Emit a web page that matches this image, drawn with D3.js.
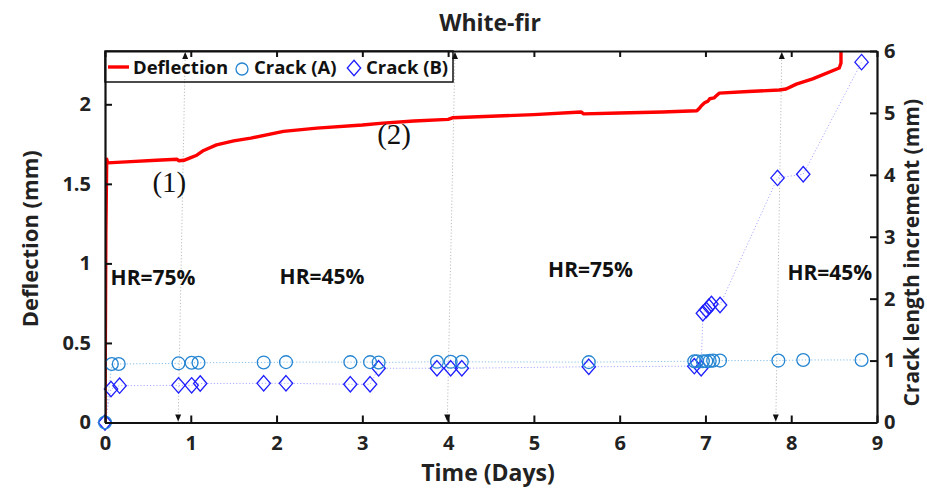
<!DOCTYPE html>
<html>
<head>
<meta charset="utf-8">
<script src="https://cdn.jsdelivr.net/npm/d3@7"></script>
<style>
  html, body { margin: 0; padding: 0; background: #fff; }
  svg { display: block; font-family: "Open Sans", "DejaVu Sans", sans-serif; }
</style>
</head>
<body>
<svg id="chart" width="927" height="488"></svg>
<script>
// Mid-span deflection (mm) over time (days)
const deflectionDays = [0, 0.01, 0.02, 0.03, 0.3, 0.6, 0.84, 0.86, 0.92, 1.0, 1.07, 1.15, 1.3, 1.5, 1.7, 2.08, 2.47, 3.0, 3.24, 3.6, 4.0, 4.05, 4.5, 5.0, 5.55, 5.58, 6.0, 6.5, 6.9, 6.93, 6.95, 6.99, 7.03, 7.05, 7.1, 7.12, 7.16, 7.5, 7.86, 7.94, 8.06, 8.25, 8.56, 8.58, 8.58];
const deflectionMm   = [0, 1.2, 1.655, 1.632, 1.64, 1.648, 1.655, 1.645, 1.648, 1.665, 1.68, 1.71, 1.745, 1.77, 1.787, 1.83, 1.85, 1.87, 1.882, 1.895, 1.905, 1.915, 1.925, 1.935, 1.952, 1.94, 1.945, 1.952, 1.959, 1.975, 1.99, 2.01, 2.02, 2.035, 2.04, 2.05, 2.07, 2.08, 2.09, 2.096, 2.127, 2.16, 2.228, 2.26, 2.6];

// Crack length increment (mm), crack A
const crackADays = [0, 0.08, 0.16, 0.857, 1.01, 1.09, 1.85, 2.11, 2.86, 3.09, 3.19, 3.87, 4.03, 4.16, 5.64, 6.87, 6.90, 6.97, 7.01, 7.05, 7.09, 7.17, 7.85, 8.14, 8.82];
const crackAMm   = [0, 0.945, 0.945, 0.955, 0.965, 0.965, 0.97, 0.975, 0.975, 0.975, 0.97, 0.98, 0.98, 0.98, 0.975, 0.99, 0.99, 0.99, 0.99, 0.995, 1.0, 1.0, 1.0, 1.01, 1.01];

// Crack length increment (mm), crack B
const crackBDays = [0, 0.07, 0.17, 0.857, 1.01, 1.11, 1.85, 2.11, 2.86, 3.09, 3.19, 3.87, 4.03, 4.16, 5.64, 6.87, 6.95, 6.97, 7.01, 7.04, 7.07, 7.17, 7.84, 8.14, 8.82];
const crackBMm   = [0, 0.54, 0.595, 0.6, 0.6, 0.63, 0.633, 0.633, 0.617, 0.617, 0.876, 0.876, 0.876, 0.876, 0.9, 0.91, 0.876, 1.764, 1.817, 1.871, 1.914, 1.898, 3.95, 4.01, 5.82];

// Axis ticks
const timeTicks = [0, 1, 2, 3, 4, 5, 6, 7, 8, 9];
const deflectionTicks = [0, 0.5, 1, 1.5, 2];
const deflectionTickLabels = ["0", "0.5", "1", "1.5", "2"];
const crackTicks = [0, 1, 2, 3, 4, 5, 6];

// Humidity phases and the moments they change
const humidityLabels = ["HR=75%", "HR=45%", "HR=75%", "HR=45%"];
const humidityDays = [0.56, 2.53, 5.66, 8.45];
const humidityAt = [0.865, 0.87, 0.915, 0.896];
const changeDaysLow = [0.853, 3.99, 7.82];
const changeDaysHigh = [0.935, 4.08, 7.89];

// Stage markers on the deflection curve
const stageLabels = ["(1)", "(2)"];
const stageDays = [0.75, 3.37];
const stageAt = [1.45, 1.752];

const seriesNames = ["Deflection", "Crack (A)", "Crack (B)"];

const svg = d3.select("#chart");
const plotL = 105, plotR = 877, plotT = 51, plotB = 422.5;

const x = d3.scaleLinear().domain([0, 9]).range([plotL, plotR]);
const yL = d3.scaleLinear().domain([0, 2.335]).range([plotB, plotT]);
const yR = d3.scaleLinear().domain([0, 6]).range([plotB, plotT]);

const red = "#ff0000", blueA = "#2585d2", blueB = "#1e1eff";
const lineA = "#86bfea", lineB = "#a9a9ff";

svg.append("defs").append("clipPath").attr("id", "plot")
  .append("rect").attr("x", plotL).attr("y", plotT).attr("width", plotR - plotL).attr("height", plotB - plotT);

// Title
svg.append("text").attr("x", 490).attr("y", 31).attr("text-anchor", "middle")
  .attr("font-size", 23).attr("font-weight", 700).attr("fill", "#222").text("White-fir");

// Humidity change annotations (double-headed dotted arrows)
const arrows = svg.append("g");
changeDaysLow.forEach((d, i) => {
  const x0 = x(d), x1 = x(changeDaysHigh[i]);
  arrows.append("line").attr("x1", x0).attr("y1", plotB).attr("x2", x1).attr("y2", plotT + 2)
    .attr("stroke", "#bdbdbd").attr("stroke-width", 1).attr("stroke-dasharray", "1.2,2");
  arrows.append("path").attr("d", `M${x0 - 3},${plotB - 8} L${x0 + 3},${plotB - 8} L${x0},${plotB - 1} Z`).attr("fill", "#111");
  arrows.append("path").attr("d", `M${x1 - 3},${plotT + 8} L${x1 + 3},${plotT + 8} L${x1},${plotT + 1} Z`).attr("fill", "#111");
});

// Crack connection lines
const lineCrackA = d3.line().x((d, i) => x(crackADays[i])).y(d => yR(d));
const lineCrackB = d3.line().x((d, i) => x(crackBDays[i])).y(d => yR(d));
const plotG = svg.append("g").attr("clip-path", "url(#plot)");
plotG.append("path").attr("d", lineCrackB(crackBMm)).attr("fill", "none")
  .attr("stroke", lineB).attr("stroke-width", 1).attr("stroke-dasharray", "1.2,2");
plotG.append("path").attr("d", lineCrackA(crackAMm)).attr("fill", "none")
  .attr("stroke", lineA).attr("stroke-width", 1).attr("stroke-dasharray", "1.2,2");

// Deflection curve
const lineDef = d3.line().x((d, i) => x(deflectionDays[i])).y(d => yL(d));
plotG.append("path").attr("d", lineDef(deflectionMm)).attr("fill", "none")
  .attr("stroke", red).attr("stroke-width", 3.4).attr("stroke-linejoin", "round");

// Crack markers
const diamond = (cx, cy) => `M${cx},${cy - 7.7} L${cx + 6.7},${cy} L${cx},${cy + 7.7} L${cx - 6.7},${cy} Z`;
svg.append("g").selectAll("path").data(crackBMm).join("path")
  .attr("d", (d, i) => diamond(x(crackBDays[i]), yR(d)))
  .attr("fill", "none").attr("stroke", blueB).attr("stroke-width", 1.3);
svg.append("g").selectAll("circle").data(crackAMm).join("circle")
  .attr("cx", (d, i) => x(crackADays[i])).attr("cy", d => yR(d)).attr("r", 6.4)
  .attr("fill", "none").attr("stroke", blueA).attr("stroke-width", 1.3);

// Humidity labels
svg.append("g").selectAll("text").data(humidityLabels).join("text")
  .attr("x", (d, i) => x(humidityDays[i])).attr("y", (d, i) => yL(humidityAt[i]))
  .attr("text-anchor", "middle").attr("font-size", 21).attr("font-weight", 700).attr("fill", "#111")
  .text(d => d);

// Stage labels
svg.append("g").selectAll("text").data(stageLabels).join("text")
  .attr("x", (d, i) => x(stageDays[i])).attr("y", (d, i) => yL(stageAt[i]))
  .attr("text-anchor", "middle").attr("font-size", 29)
  .attr("font-family", "'Liberation Serif', 'Times New Roman', serif").attr("fill", "#111")
  .text(d => d);

// Axes
const axisStyle = g => {
  g.selectAll(".domain").attr("stroke", "#111").attr("stroke-width", 2.2);
  g.selectAll(".tick line").attr("stroke", "#111").attr("stroke-width", 2);
  g.selectAll(".tick text").attr("font-size", 20).attr("font-weight", 700).attr("fill", "#222")
    .attr("font-family", "'Open Sans', sans-serif");
};

svg.append("g").attr("transform", `translate(0,${plotB})`)
  .call(d3.axisBottom(x).tickValues(timeTicks).tickFormat(d3.format("d")).tickSizeInner(-7).tickSizeOuter(0).tickPadding(13))
  .call(axisStyle);

svg.append("g").attr("transform", `translate(0,${plotT})`)
  .call(d3.axisTop(x).tickValues(timeTicks).tickFormat("").tickSizeInner(-6).tickSizeOuter(0))
  .call(axisStyle);

svg.append("g").attr("transform", `translate(${plotL},0)`)
  .call(d3.axisLeft(yL).tickValues(deflectionTicks).tickFormat((d, i) => deflectionTickLabels[i]).tickSizeInner(-7).tickSizeOuter(0).tickPadding(14))
  .call(axisStyle);

svg.append("g").attr("transform", `translate(${plotR},0)`)
  .call(d3.axisRight(yR).tickValues(crackTicks).tickFormat(d3.format("d")).tickSizeInner(-7).tickSizeOuter(0).tickPadding(7))
  .call(axisStyle);

// Axis titles
svg.append("text").attr("x", 488).attr("y", 481).attr("text-anchor", "middle")
  .attr("font-size", 23).attr("font-weight", 700).attr("fill", "#222").text("Time (Days)");
svg.append("text").attr("transform", `translate(38,${(plotT + plotB) / 2 + 2}) rotate(-90)`)
  .attr("text-anchor", "middle").attr("font-size", 22).attr("font-weight", 700).attr("fill", "#222")
  .text("Deflection (mm)");
svg.append("text").attr("transform", `translate(919,${(plotT + plotB) / 2 + 16}) rotate(-90)`)
  .attr("text-anchor", "middle").attr("font-size", 21).attr("font-weight", 700).attr("fill", "#222")
  .text("Crack length increment (mm)");

// Legend
const lg = svg.append("g");
lg.append("rect").attr("x", plotL).attr("y", plotT).attr("width", 348).attr("height", 31)
  .attr("fill", "none").attr("stroke", "#111").attr("stroke-width", 1.5);
lg.append("line").attr("x1", 108).attr("x2", 129).attr("y1", 67).attr("y2", 67)
  .attr("stroke", red).attr("stroke-width", 3.4);
lg.append("circle").attr("cx", 242).attr("cy", 69).attr("r", 6)
  .attr("fill", "none").attr("stroke", blueA).attr("stroke-width", 1.3);
lg.append("path").attr("d", diamond(354, 68)).attr("fill", "none").attr("stroke", blueB).attr("stroke-width", 1.3);
const legendX = [133, 254, 366];
lg.selectAll("text.lbl").data(seriesNames).join("text").attr("class", "lbl")
  .attr("x", (d, i) => legendX[i]).attr("y", 74).attr("font-size", 18.5).attr("font-weight", 700)
  .attr("fill", "#111").text(d => d);
</script>
</body>
</html>
